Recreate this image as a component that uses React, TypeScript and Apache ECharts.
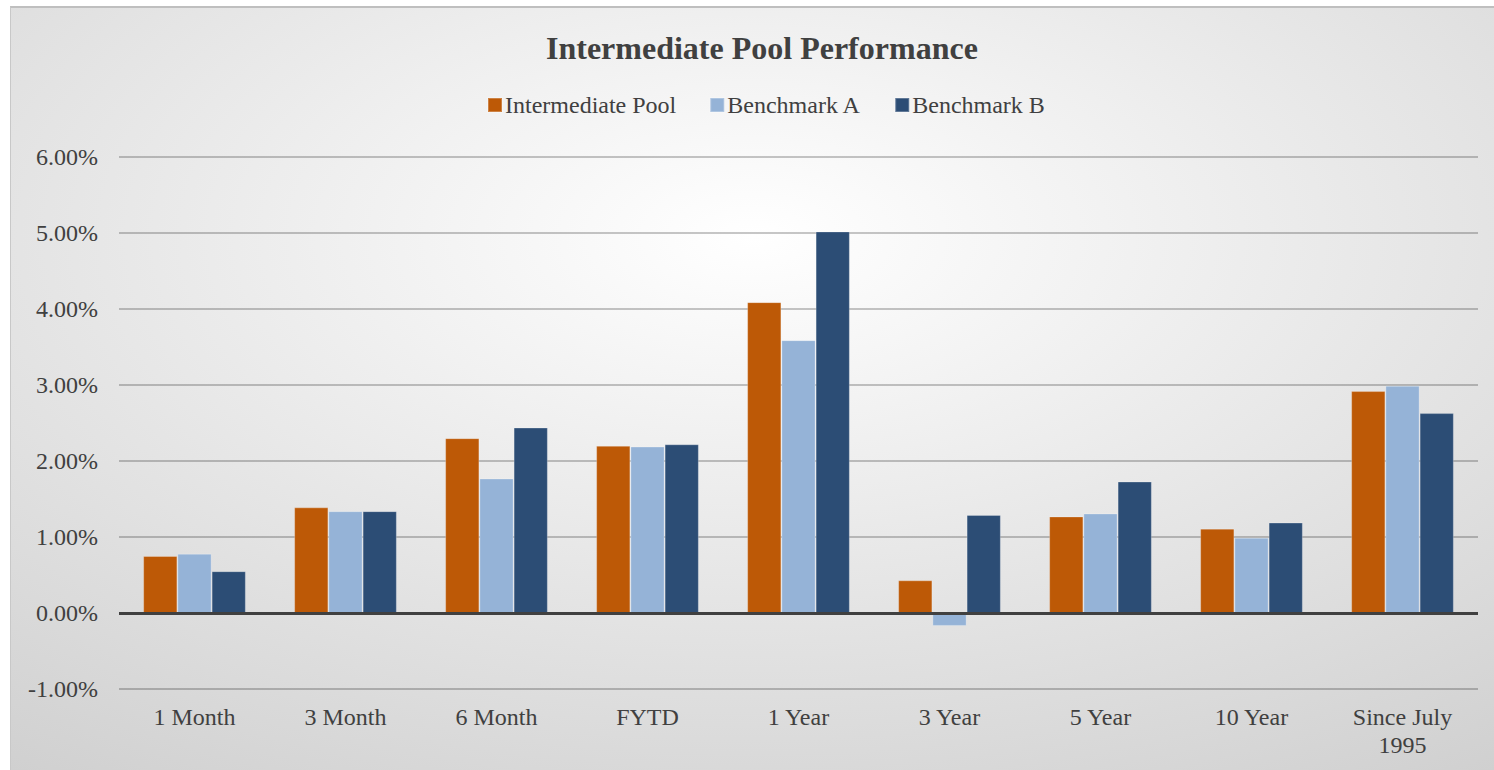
import React, { useEffect, useRef } from "react";
import * as echarts from "echarts";

const categories = ["1 Month", "3 Month", "6 Month", "FYTD", "1 Year", "3 Year", "5 Year", "10 Year", "Since July\n1995"];
const poolValues = [0.75, 1.39, 2.30, 2.20, 4.09, 0.43, 1.27, 1.11, 2.92];
const benchAValues = [0.78, 1.34, 1.77, 2.19, 3.59, -0.17, 1.31, 0.99, 2.99];
const benchBValues = [0.55, 1.34, 2.44, 2.22, 5.02, 1.29, 1.73, 1.19, 2.63];
const seriesNames = ["Intermediate Pool", "Benchmark A", "Benchmark B"];
const colors = ["#BD5906", "#95B3D7", "#2C4D75"];
const titleText = "Intermediate Pool Performance";

const FONT = "Liberation Serif";

export default function App() {
  const ref = useRef<HTMLDivElement>(null);
  useEffect(() => {
    document.body.style.margin = "0";
    const chart = echarts.init(ref.current!, null, { renderer: "svg" });
    const data = [poolValues, benchAValues, benchBValues];
    chart.setOption({
      animation: false,
      backgroundColor: {
        type: "radial",
        x: 0.5,
        y: 0.3,
        r: 1.3,
        colorStops: [
          { offset: 0, color: "#ffffff" },
          { offset: 1, color: "#b8b8b8" },
        ],
      },
      textStyle: { fontFamily: FONT },
      title: {
        text: titleText,
        left: 535,
        top: 24,
        padding: 0,
        textStyle: { fontFamily: FONT, fontSize: 32, fontWeight: "bold", color: "#404040" },
      },
      legend: {
        top: 85,
        left: 476,
        padding: 0,
        itemWidth: 14,
        itemHeight: 14,
        itemGap: 33,
        icon: "rect",
        textStyle: { fontFamily: FONT, fontSize: 24, color: "#404040", padding: [0, 0, 0, -2] },
        data: seriesNames,
      },
      grid: { left: 108, right: 16, top: 149, bottom: 81 },
      xAxis: {
        type: "category",
        data: categories,
        axisLine: { show: false, onZero: false },
        axisTick: { show: false },
        axisLabel: { fontFamily: FONT, fontSize: 24, color: "#404040", margin: 14, interval: 0, lineHeight: 28 },
      },
      yAxis: {
        type: "value",
        min: -1,
        max: 6,
        interval: 1,
        axisLine: { show: false },
        axisTick: { show: false },
        axisLabel: {
          fontFamily: FONT,
          fontSize: 24,
          color: "#404040",
          margin: 21,
          formatter: (v: number) => v.toFixed(2) + "%",
        },
        splitLine: { lineStyle: { color: "rgba(0,0,0,0.22)", width: 2 } },
      },
      series: data.map((d, i) => ({
        name: seriesNames[i],
        type: "bar",
        data: d,
        barGap: "0%",
        barCategoryGap: "32%",
        itemStyle: { color: colors[i], borderColor: "rgba(255,255,255,0.25)", borderWidth: 1 },
        ...(i === 0
          ? {
              markLine: {
                silent: true,
                symbol: "none",
                label: { show: false },
                lineStyle: { color: "#404040", width: 3, type: "solid" },
                data: [{ yAxis: 0 }],
                z: 10,
              },
            }
          : {}),
      })),
    });
    return () => chart.dispose();
  }, []);
  return (
    <div style={{ position: "absolute", left: 10, top: 6, width: 1484, height: 764, borderTop: "2px solid #bfbfbf", borderLeft: "1px solid #c8c8c8", boxSizing: "border-box" }}>
      <div ref={ref} style={{ width: "100%", height: "100%" }} />
    </div>
  );
}
